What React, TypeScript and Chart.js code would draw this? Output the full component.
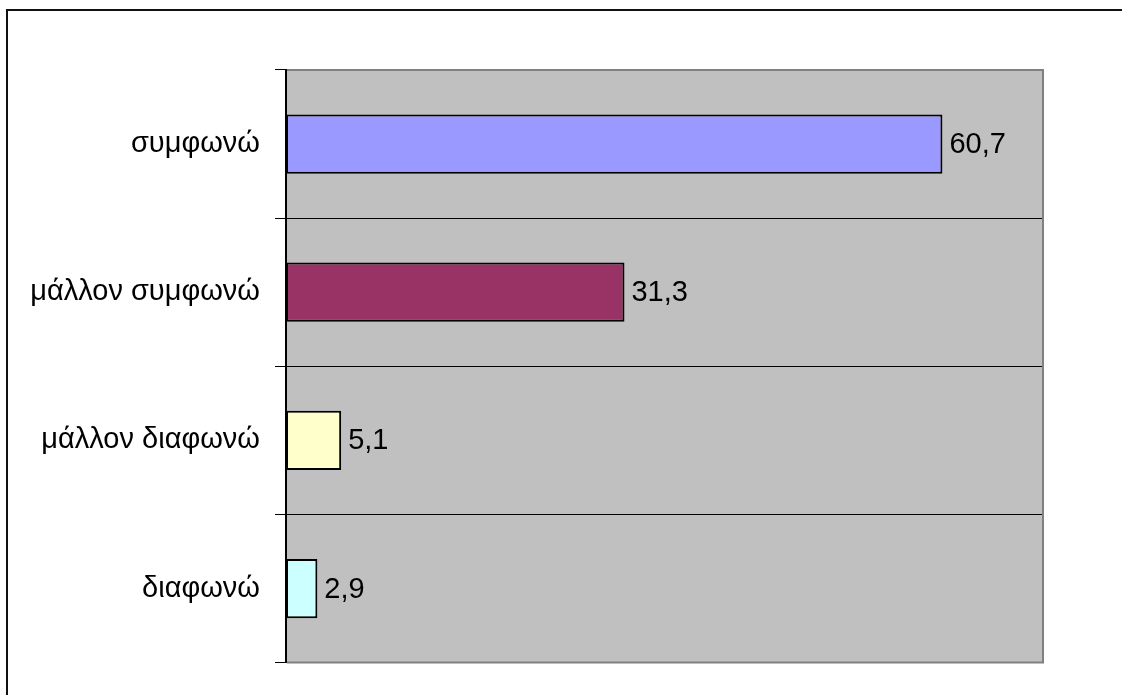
import React, { useEffect, useRef } from "react";
import { Chart, registerables } from "chart.js";

Chart.register(...registerables);

const categories = ["συμφωνώ", "μάλλον συμφωνώ", "μάλλον διαφωνώ", "διαφωνώ"];
const values = [60.7, 31.3, 5.1, 2.9];
const barColors = ["#9999FF", "#993366", "#FFFFCC", "#CCFFFF"];
const axisMin = 0;
const axisMax = 70;

const FONT = "'Liberation Sans', Arial, sans-serif";
const FONT_SIZE = 29;

const decorPlugin = {
  id: "decor",
  beforeDraw(chart: any) {
    const { ctx, chartArea: a } = chart;
    ctx.save();
    ctx.fillStyle = "#ffffff";
    ctx.fillRect(0, 0, chart.width, chart.height);
    // outer border (left/top only visible)
    ctx.strokeStyle = "#111";
    ctx.lineWidth = 2;
    ctx.beginPath();
    ctx.moveTo(7, chart.height + 5);
    ctx.lineTo(7, 10);
    ctx.lineTo(chart.width + 5, 10);
    ctx.stroke();
    // plot background
    ctx.fillStyle = "#C0C0C0";
    ctx.fillRect(a.left, a.top, a.right - a.left, a.bottom - a.top);
    ctx.restore();
  },
  afterDraw(chart: any) {
    const { ctx, chartArea: a } = chart;
    ctx.save();
    ctx.strokeStyle = "#808080";
    ctx.lineWidth = 2;
    ctx.beginPath();
    ctx.moveTo(a.left + 1, a.top);
    ctx.lineTo(a.right, a.top);
    ctx.lineTo(a.right, a.bottom);
    ctx.lineTo(a.left + 1, a.bottom);
    ctx.stroke();
    ctx.restore();
  },
  afterDatasetsDraw(chart: any) {
    const { ctx } = chart;
    const meta = chart.getDatasetMeta(0);
    ctx.save();
    ctx.fillStyle = "#000";
    ctx.font = `${FONT_SIZE}px ${FONT}`;
    ctx.textAlign = "left";
    ctx.textBaseline = "middle";
    meta.data.forEach((bar: any, i: number) => {
      const label = values[i].toFixed(1).replace(".", ",");
      ctx.fillText(label, bar.x + 7, bar.y + 1);
    });
    ctx.restore();
  },
};

export default function App() {
  const ref = useRef<HTMLCanvasElement | null>(null);
  useEffect(() => {
    if (!ref.current) return;
    const chart = new Chart(ref.current, {
      type: "bar",
      data: {
        labels: categories,
        datasets: [
          {
            data: values,
            backgroundColor: barColors,
            borderColor: "#000",
            borderWidth: 2,
            barPercentage: 0.4,
            categoryPercentage: 1,
            borderSkipped: false,
          },
        ],
      },
      options: {
        indexAxis: "y",
        responsive: false,
        animation: false,
        layout: { padding: { left: 0, right: 79, top: 70, bottom: 31 } },
        plugins: {
          legend: { display: false },
          tooltip: { enabled: false },
        },
        scales: {
          x: {
            display: false,
            min: axisMin,
            max: axisMax,
          },
          y: {
            offset: true,
            grid: {
              offset: true,
              color: "#000",
              lineWidth: 1,
              tickLength: 11,
              tickColor: "#000",
            },
            border: { color: "#000", width: 2 },
            ticks: {
              color: "#000",
              font: { family: FONT, size: FONT_SIZE },
              padding: 15,
            },
            afterFit(scale: any) {
              scale.width = 286;
            },
          },
        },
      },
      plugins: [decorPlugin],
    });
    return () => chart.destroy();
  }, []);
  return (
    <div style={{ position: "fixed", left: 0, top: 0, width: 1122, height: 695, overflow: "hidden", background: "#fff" }}>
      <canvas ref={ref} width={1122} height={695} style={{ display: "block" }} />
    </div>
  );
}
